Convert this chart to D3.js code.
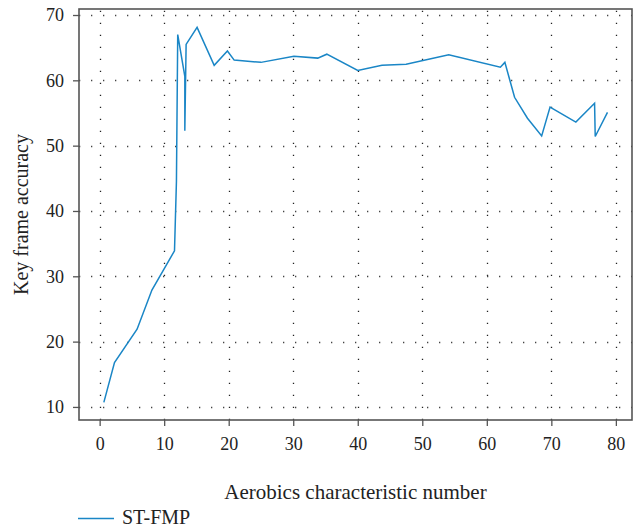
<!DOCTYPE html>
<html>
<head>
<meta charset="utf-8">
<script src="https://cdn.jsdelivr.net/npm/d3@7"></script>
<style>
  html, body { margin: 0; padding: 0; background: #fff; }
  svg { display: block; }
</style>
</head>
<body>
<svg id="chart" width="639" height="528" font-family="Liberation Serif, DejaVu Serif, serif"></svg>
<script>
// ---- data ----
const seriesName = "ST-FMP";
const xValues = [0.65, 2.3, 5.8, 8.1, 11.6, 11.9, 12.1, 13.2, 13.2, 13.4, 15.1, 17.75, 19.8, 20.85,
                 25.0, 30.1, 33.8, 35.2, 40.0, 43.75, 47.5, 54.1, 62.1, 62.8, 64.3, 66.3, 68.5,
                 69.8, 73.8, 76.7, 76.8, 78.7];
const yValues = [10.7, 16.8, 21.9, 27.9, 33.9, 44.5, 67.0, 60.6, 52.3, 65.5, 68.1, 62.3, 64.5, 63.1,
                 62.75, 63.7, 63.4, 64.0, 61.5, 62.3, 62.45, 63.9, 62.0, 62.75, 57.4, 54.2, 51.5,
                 55.9, 53.6, 56.5, 51.4, 55.1];
const xTicks = [0, 10, 20, 30, 40, 50, 60, 70, 80];
const yTicks = [10, 20, 30, 40, 50, 60, 70];
const xTitle = "Aerobics characteristic number";
const yTitle = "Key frame accuracy";

// ---- layout ----
const FONT = "Liberation Serif, DejaVu Serif, serif";
const W = 639, H = 528;
const margin = { left: 79, top: 9, right: 7, bottom: 108 };
const pw = W - margin.left - margin.right;
const ph = H - margin.top - margin.bottom;
const lineColor = "#1a86c6";
const axisColor = "#555";

const svg = d3.select("#chart");
const g = svg.append("g").attr("transform", `translate(${margin.left},${margin.top})`);

const x = d3.scaleLinear().domain([-3.2, 82.5]).range([0, pw]);
const y = d3.scaleLinear().domain([8.0, 70.92]).range([ph, 0]);

// grid (dotted)
const grid = g.append("g").attr("class", "grid");
grid.selectAll("line.v").data(xTicks).join("line")
  .attr("x1", d => Math.round(x(d)) + 0.5).attr("x2", d => Math.round(x(d)) + 0.5)
  .attr("y1", ph).attr("y2", 0)
  .attr("stroke", "#222").attr("stroke-width", 1.3)
  .attr("stroke-dasharray", "1.3,10.7");
grid.selectAll("line.h").data(yTicks).join("line")
  .attr("x1", 0).attr("x2", pw)
  .attr("y1", d => Math.round(y(d)) + 0.5).attr("y2", d => Math.round(y(d)) + 0.5)
  .attr("stroke", "#444").attr("stroke-width", 1.3)
  .attr("stroke-dasharray", "1.3,10.7");

// axes
const xAxis = d3.axisBottom(x).tickValues(xTicks).tickSize(6).tickPadding(11).tickSizeOuter(0);
const yAxis = d3.axisLeft(y).tickValues(yTicks).tickSize(6).tickPadding(9).tickSizeOuter(0);

const gx = g.append("g").attr("transform", `translate(0,${ph})`).call(xAxis);
const gy = g.append("g").call(yAxis);
[gx, gy].forEach(a => {
  a.attr("font-family", FONT).attr("font-size", 18);
  a.select(".domain").remove();
  a.selectAll(".tick line").attr("stroke", axisColor).attr("stroke-width", 1.3);
  a.selectAll(".tick text").attr("fill", "#222");
});

// frame
g.append("rect").attr("x", 0).attr("y", 0).attr("width", pw).attr("height", ph)
  .attr("fill", "none").attr("stroke", axisColor).attr("stroke-width", 1.6);

// line
const data = xValues.map((v, i) => [v, yValues[i]]);
const line = d3.line().x(d => x(d[0])).y(d => y(d[1]));
g.append("path").datum(data).attr("d", line)
  .attr("fill", "none").attr("stroke", lineColor).attr("stroke-width", 1.5)
  .attr("stroke-linejoin", "miter");

// titles
svg.append("text").attr("x", margin.left + pw / 2).attr("y", 499)
  .attr("text-anchor", "middle").attr("font-family", FONT).attr("font-size", 21)
  .attr("fill", "#222").text(xTitle);
svg.append("text")
  .attr("transform", `translate(28,${margin.top + ph / 2}) rotate(-90)`)
  .attr("text-anchor", "middle").attr("font-family", FONT).attr("font-size", 20)
  .attr("fill", "#222").text(yTitle);

// legend
svg.append("line").attr("x1", 78).attr("x2", 114).attr("y1", 518.5).attr("y2", 518.5)
  .attr("stroke", lineColor).attr("stroke-width", 1.5);
svg.append("text").attr("x", 122).attr("y", 524).attr("font-family", FONT)
  .attr("font-size", 20).attr("fill", "#222").text(seriesName);
</script>
</body>
</html>
